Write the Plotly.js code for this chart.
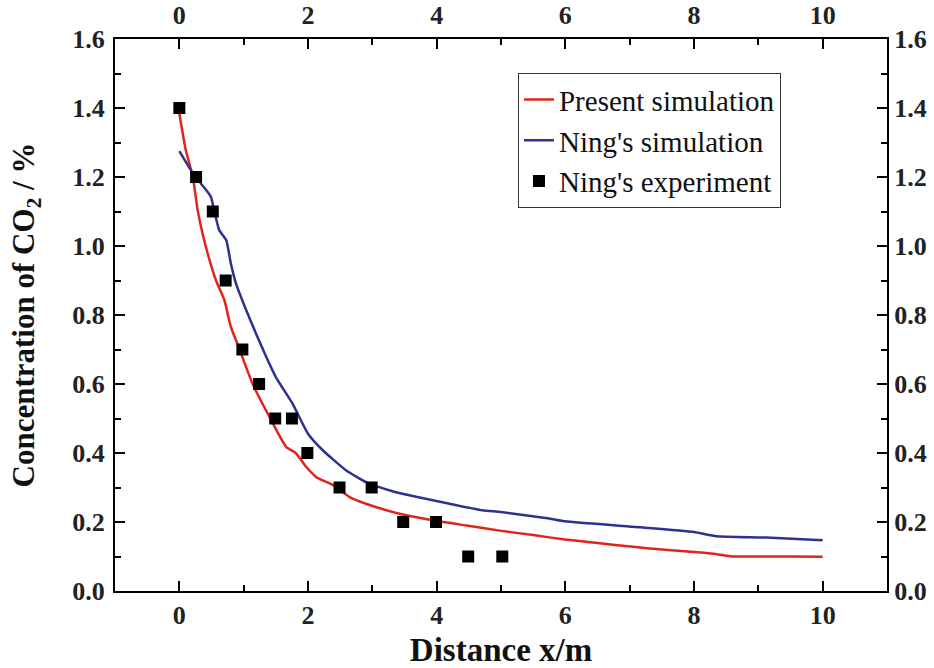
<!DOCTYPE html>
<html>
<head>
<meta charset="utf-8">
<script src="https://cdn.plot.ly/plotly-3.0.1.min.js"></script>
<style>
html,body{margin:0;padding:0;background:#fff;}
#chart{width:934px;height:668px;}
</style>
</head>
<body>
<div id="chart"></div>
<script>
// Present simulation (red)
var presentX = [0, 0.10, 0.21, 0.285, 0.36, 0.47, 0.57, 0.70, 0.80, 0.93, 1.14, 1.40, 1.66, 1.81, 1.97, 2.13, 2.39, 2.64, 2.90, 3.42, 3.94, 4.46, 4.98, 5.5, 6.0, 6.5, 7.05, 7.5, 8.0, 8.3, 8.6, 9.0, 9.5, 10.0];
var presentY = [1.385, 1.278, 1.20, 1.104, 1.037, 0.959, 0.90, 0.843, 0.766, 0.703, 0.60, 0.505, 0.418, 0.40, 0.36, 0.33, 0.307, 0.273, 0.253, 0.224, 0.205, 0.19, 0.175, 0.162, 0.149, 0.139, 0.128, 0.12, 0.113, 0.108, 0.10, 0.10, 0.10, 0.099];
// Ning's simulation (blue)
var ningSimX = [0, 0.18, 0.34, 0.49, 0.54, 0.62, 0.73, 0.80, 0.88, 1.04, 1.19, 1.35, 1.50, 1.76, 2.0, 2.23, 2.59, 2.95, 3.3, 3.68, 4.2, 4.71, 5.0, 5.75, 6.0, 7.05, 8.0, 8.35, 9.12, 10.0];
var ningSimY = [1.275, 1.22, 1.18, 1.143, 1.104, 1.046, 1.017, 0.95, 0.892, 0.814, 0.747, 0.679, 0.62, 0.543, 0.456, 0.408, 0.35, 0.311, 0.29, 0.273, 0.253, 0.234, 0.229, 0.21, 0.202, 0.186, 0.171, 0.159, 0.155, 0.147];
// Ning's experiment (black squares)
var expX = [0, 0.26, 0.52, 0.72, 0.98, 1.24, 1.49, 1.75, 1.99, 2.49, 2.99, 3.48, 3.99, 4.49, 5.02];
var expY = [1.4, 1.2, 1.1, 0.9, 0.7, 0.6, 0.5, 0.5, 0.4, 0.3, 0.3, 0.2, 0.2, 0.1, 0.1];

var xTickVals = [0, 2, 4, 6, 8, 10];
var yTickVals = [0.0, 0.2, 0.4, 0.6, 0.8, 1.0, 1.2, 1.4, 1.6];
var yTickText = ['0.0', '0.2', '0.4', '0.6', '0.8', '1.0', '1.2', '1.4', '1.6'];

var serif = 'Liberation Serif, Times New Roman, serif';
var tickFont = {family: serif, size: 26, color: '#222', weight: 'bold'};

var traces = [
  {x: presentX, y: presentY, mode: 'lines', name: 'Present simulation',
   line: {color: '#e2231a', width: 2.5, shape: 'spline', smoothing: 0.5}},
  {x: ningSimX, y: ningSimY, mode: 'lines', name: "Ning's simulation",
   line: {color: '#2e3192', width: 2.5, shape: 'spline', smoothing: 0.5}},
  {x: expX, y: expY, mode: 'markers', name: "Ning's experiment",
   marker: {symbol: 'square', size: 12, color: '#000'}},
  {x: [null], y: [null], xaxis: 'x2', yaxis: 'y2', mode: 'markers', showlegend: false, hoverinfo: 'skip'}
];

function axisCommon() {
  return {
    showline: true, linecolor: '#000', linewidth: 2,
    ticks: 'inside', ticklen: 10, tickwidth: 2, tickcolor: '#000',
    showgrid: false, zeroline: false, tickfont: tickFont
  };
}
function minorX() { return {ticks: 'inside', ticklen: 6, tickwidth: 2, tickcolor: '#000', dtick: 1, tick0: 0, showgrid: false}; }
function minorY() { return {ticks: 'inside', ticklen: 6, tickwidth: 2, tickcolor: '#000', dtick: 0.1, tick0: 0, showgrid: false}; }

var xa = Object.assign(axisCommon(), {
  range: [-1, 11], tickvals: xTickVals, minor: minorX(),
  title: {text: '<b>Distance x/m</b>', font: {family: serif, size: 33, color: '#111'}, standoff: 22}
});
var xa2 = Object.assign(axisCommon(), {
  range: [-1, 11], tickvals: xTickVals, overlaying: 'x', side: 'top', minor: minorX(),
  ticklabelstandoff: 3
});
var ya = Object.assign(axisCommon(), {
  range: [0, 1.6], tickvals: yTickVals, ticktext: yTickText, minor: minorY(),
  ticklabelstandoff: 3,
  title: {text: '<b>Concentration of CO<sub>2</sub> / %</b>', font: {family: serif, size: 31, color: '#111'}, standoff: 28}
});
var ya2 = Object.assign(axisCommon(), {
  range: [0, 1.6], tickvals: yTickVals, ticktext: yTickText, overlaying: 'y', side: 'right', minor: minorY()
});

var layout = {
  width: 934, height: 668,
  margin: {l: 115, r: 47, t: 39, b: 77},
  paper_bgcolor: '#fff', plot_bgcolor: '#fff',
  font: {family: serif, color: '#111'},
  showlegend: true,
  legend: {
    x: 0.522, y: 0.938, xanchor: 'left', yanchor: 'top',
    bgcolor: 'rgba(255,255,255,1)', bordercolor: '#333', borderwidth: 1,
    font: {family: serif, size: 29, color: '#111'},
    tracegroupgap: 0
  },
  xaxis: xa, xaxis2: xa2, yaxis: ya, yaxis2: ya2
};

Plotly.newPlot('chart', traces, layout, {displayModeBar: false, staticPlot: true});
</script>
</body>
</html>
